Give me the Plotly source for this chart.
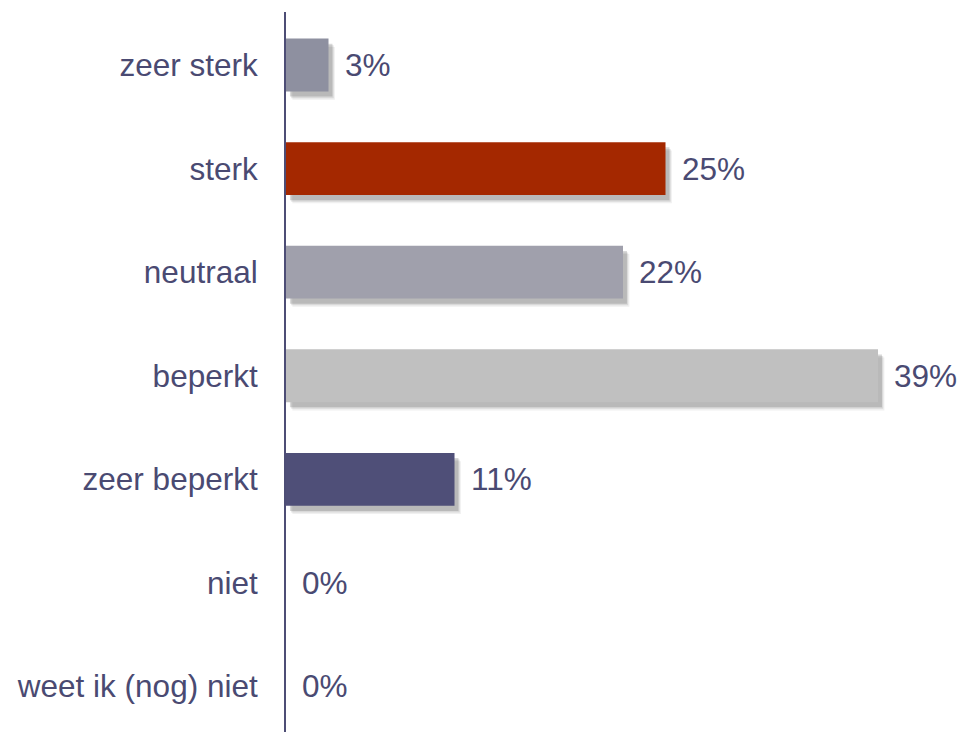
import plotly.graph_objects as go

categories = ["zeer sterk", "sterk", "neutraal", "beperkt", "zeer beperkt", "niet", "weet ik (nog) niet"]
values = [2.8, 25.0, 22.2, 39.0, 11.1, 0.0, 0.0]
labels = ["3%", "25%", "22%", "39%", "11%", "0%", "0%"]
colors = ["#8e90a0", "#a42800", "#a0a0ac", "#c0c0c0", "#4f4f78", "#4f4f78", "#4f4f78"]

TEXT = "#4a4a72"
FONT = "Liberation Sans, Arial, sans-serif"
FS = 31.5
BW = 0.51

fig = go.Figure()

# soft drop shadows (layered)
shadow_layers = [(0.42, 0.08, 0.08), (0.34, 0.065, 0.13), (0.26, 0.05, 0.2)]
for dx, dy, a in shadow_layers:
    fig.add_trace(go.Bar(
        y=categories, x=values, base=dx, orientation="h",
        width=BW, offset=-BW / 2 + dy,
        marker=dict(color=f"rgba(60,60,60,{a})", line=dict(width=0)),
        hoverinfo="skip", showlegend=False,
    ))

fig.add_trace(go.Bar(
    y=categories, x=values, orientation="h", width=BW,
    marker=dict(color=colors, line=dict(width=0)),
    showlegend=False,
))

for c, v, t in zip(categories, values, labels):
    fig.add_annotation(x=v, y=c, text=t, xanchor="left", yanchor="middle",
                       xshift=14, showarrow=False,
                       font=dict(family=FONT, size=FS, color=TEXT))

fig.update_layout(
    width=960, height=732,
    margin=dict(l=286, r=0, t=12, b=0),
    paper_bgcolor="white", plot_bgcolor="white",
    barmode="overlay",
    font=dict(family=FONT, size=FS, color=TEXT),
)
fig.update_xaxes(range=[0, 44.4], visible=False)
fig.update_yaxes(
    autorange=False, range=[6.44, -0.512],
    showline=True, linecolor="#4d4d75", linewidth=2,
    showgrid=False, zeroline=False, ticks="",
    ticklabelstandoff=20,
    tickfont=dict(family=FONT, size=FS, color=TEXT),
)

fig.write_html("out.html", config={"displayModeBar": False},
               post_script="document.body.style.margin='0px';document.body.style.overflow='hidden';")
